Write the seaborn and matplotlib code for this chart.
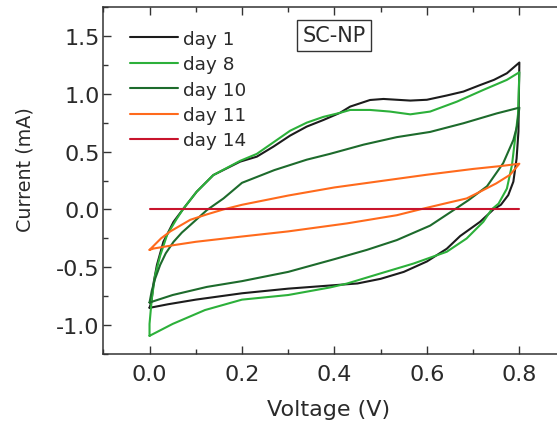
import numpy as np
import pandas as pd
import matplotlib
matplotlib.use("Agg")
import matplotlib.pyplot as plt
import seaborn as sns
from matplotlib.ticker import MultipleLocator

# Cyclic voltammograms (anodic sweep 0 -> 0.8 V, then cathodic sweep back to 0 V)
day1_v = [0.0, 0.004, 0.009, 0.016, 0.03, 0.052, 0.074, 0.102, 0.138, 0.196, 0.232, 0.268,
          0.304, 0.34, 0.376, 0.412, 0.434, 0.477, 0.506, 0.535, 0.564, 0.6, 0.643, 0.679,
          0.715, 0.745, 0.773, 0.8,
          0.799, 0.798, 0.794, 0.787, 0.776, 0.76, 0.744, 0.715, 0.672, 0.643, 0.6, 0.55,
          0.5, 0.45, 0.4, 0.3, 0.2, 0.1, 0.04, 0.0]
day1_i = [-0.85, -0.80, -0.63, -0.48, -0.28, -0.107, 0.01, 0.153, 0.297, 0.413, 0.456, 0.543,
          0.638, 0.716, 0.773, 0.835, 0.889, 0.946, 0.955, 0.948, 0.941, 0.948, 0.985, 1.019,
          1.075, 1.12, 1.177, 1.27,
          1.0, 0.673, 0.44, 0.24, 0.124, 0.04, 0.0, -0.107, -0.23, -0.34, -0.45, -0.54,
          -0.60, -0.64, -0.655, -0.685, -0.725, -0.78, -0.82, -0.851]

day8_v = [0.0, 0.0, 0.002, 0.005, 0.012, 0.023, 0.038, 0.059, 0.074, 0.102, 0.138, 0.196,
          0.232, 0.268, 0.304, 0.34, 0.376, 0.412, 0.434, 0.477, 0.52, 0.564, 0.607, 0.665,
          0.722, 0.773, 0.8,
          0.797, 0.79, 0.784, 0.773, 0.755, 0.74, 0.722, 0.686, 0.643, 0.571, 0.499, 0.427,
          0.39, 0.3, 0.2, 0.12, 0.05, 0.0]
day8_i = [-1.093, -0.99, -0.90, -0.77, -0.57, -0.40, -0.22, -0.08, 0.01, 0.153, 0.297, 0.42,
          0.48, 0.58, 0.68, 0.75, 0.80, 0.835, 0.86, 0.86, 0.846, 0.822, 0.846, 0.932,
          1.033, 1.12, 1.186,
          0.82, 0.586, 0.384, 0.18, 0.05, 0.0, -0.107, -0.251, -0.366, -0.468, -0.554, -0.641,
          -0.675, -0.74, -0.78, -0.87, -0.99, -1.093]

day10_v = [0.0, 0.005, 0.012, 0.023, 0.035, 0.052, 0.07, 0.088, 0.124, 0.16, 0.2, 0.27,
           0.34, 0.39, 0.463, 0.535, 0.607, 0.679, 0.751, 0.8,
           0.795, 0.787, 0.765, 0.73, 0.69, 0.66, 0.607, 0.535, 0.47, 0.4, 0.3, 0.2,
           0.124, 0.05, 0.0]
day10_i = [-0.805, -0.70, -0.60, -0.48, -0.38, -0.28, -0.20, -0.136, -0.006, 0.095, 0.23, 0.34,
           0.43, 0.48, 0.56, 0.625, 0.67, 0.745, 0.83, 0.88,
           0.72, 0.60, 0.40, 0.20, 0.08, 0.0, -0.14, -0.265, -0.35, -0.43, -0.54, -0.62,
           -0.67, -0.74, -0.805]

day11_v = [0.0, 0.01, 0.025, 0.045, 0.088, 0.124, 0.16, 0.2, 0.3, 0.4, 0.5, 0.6, 0.7, 0.76, 0.8,
           0.78, 0.75, 0.715, 0.686, 0.643, 0.585, 0.535, 0.427, 0.3, 0.196, 0.1, 0.052,
           0.009, 0.0]
day11_i = [-0.35, -0.31, -0.25, -0.19, -0.09, -0.043, 0.0, 0.04, 0.12, 0.19, 0.245, 0.30,
           0.35, 0.375, 0.395,
           0.30, 0.225, 0.153, 0.095, 0.055, 0.0, -0.05, -0.121, -0.19, -0.236, -0.28, -0.309,
           -0.338, -0.35]

day14_v = [0.0, 0.8]
day14_i = [0.0, 0.0]

labels = ["day 1", "day 8", "day 10", "day 11", "day 14"]
colors = ["#1c1c1c", "#2cb03a", "#1d6b2c", "#ff6a1c", "#c8142c"]
x_ticks = [0.0, 0.2, 0.4, 0.6, 0.8]
y_ticks = [-1.0, -0.5, 0.0, 0.5, 1.0, 1.5]

sweeps = [(day1_v, day1_i), (day8_v, day8_i), (day10_v, day10_i),
          (day11_v, day11_i), (day14_v, day14_i)]
frames = []
for lab, (v, i) in zip(labels, sweeps):
    frames.append(pd.DataFrame({"Voltage": v, "Current": i, "day": lab,
                                "step": np.arange(len(v))}))
df = pd.concat(frames, ignore_index=True)

sns.set_theme(style="ticks")
plt.rcParams["font.family"] = ["DejaVu Sans"]

W, H = 557, 427
fig = plt.figure(figsize=(W / 100, H / 100), dpi=100)
x0, x1 = 103.3, 565.6
y0, y1 = 355.0, 8.0
ax = fig.add_axes([x0 / W, 1 - y0 / H, (x1 - x0) / W, (y0 - y1) / H])

sns.lineplot(data=df, x="Voltage", y="Current", hue="day", hue_order=labels,
             palette=colors, sort=False, estimator=None, units="day",
             linewidth=1.5, ax=ax, legend=False)

ax.set_xlim(-0.1, 0.9)
ax.set_ylim(-1.25, 1.75)
ax.set_xticks(x_ticks)
ax.set_yticks(y_ticks)
ax.set_xticklabels([f"{t:.1f}" for t in x_ticks])
ax.set_yticklabels([f"{t:.1f}" for t in y_ticks])
ax.xaxis.set_minor_locator(MultipleLocator(0.1))
ax.yaxis.set_minor_locator(MultipleLocator(0.25))

spine_c = "#333333"
text_c = "#2a2a2a"
for s in ax.spines.values():
    s.set_color(spine_c)
    s.set_linewidth(1.1)
    s.set_visible(True)
ax.tick_params(which="both", direction="in", top=True, right=True, color=spine_c,
               width=1.0)
ax.tick_params(which="major", length=6, labelsize=16, labelcolor=text_c)
ax.tick_params(which="minor", length=3.5)
ax.tick_params(axis="y", which="major", pad=2.5)
ax.tick_params(axis="x", which="major", pad=7)

ax.set_xlabel("Voltage (V)", fontsize=16, color=text_c)
ax.set_ylabel("Current (mA)", fontsize=13.8, color=text_c)
ax.xaxis.set_label_coords(0.487, -0.13)
ax.yaxis.set_label_coords(-0.148, 0.533)

handles = [plt.Line2D([], [], color=c, lw=1.5) for c in colors]
ax.legend(handles, labels, loc="upper left", bbox_to_anchor=(0.058, 0.934),
          frameon=False, fontsize=13.3, handlelength=2.6, handletextpad=0.27,
          borderpad=0, borderaxespad=0, labelspacing=0.4, labelcolor=text_c)

ax.text(0.499, 0.919, "SC-NP", transform=ax.transAxes, ha="center", va="center",
        fontsize=15, color=text_c,
        bbox=dict(boxstyle="square,pad=0.26", fc="white", ec="#333333", lw=1.0))

fig.savefig("out.png", dpi=100)
